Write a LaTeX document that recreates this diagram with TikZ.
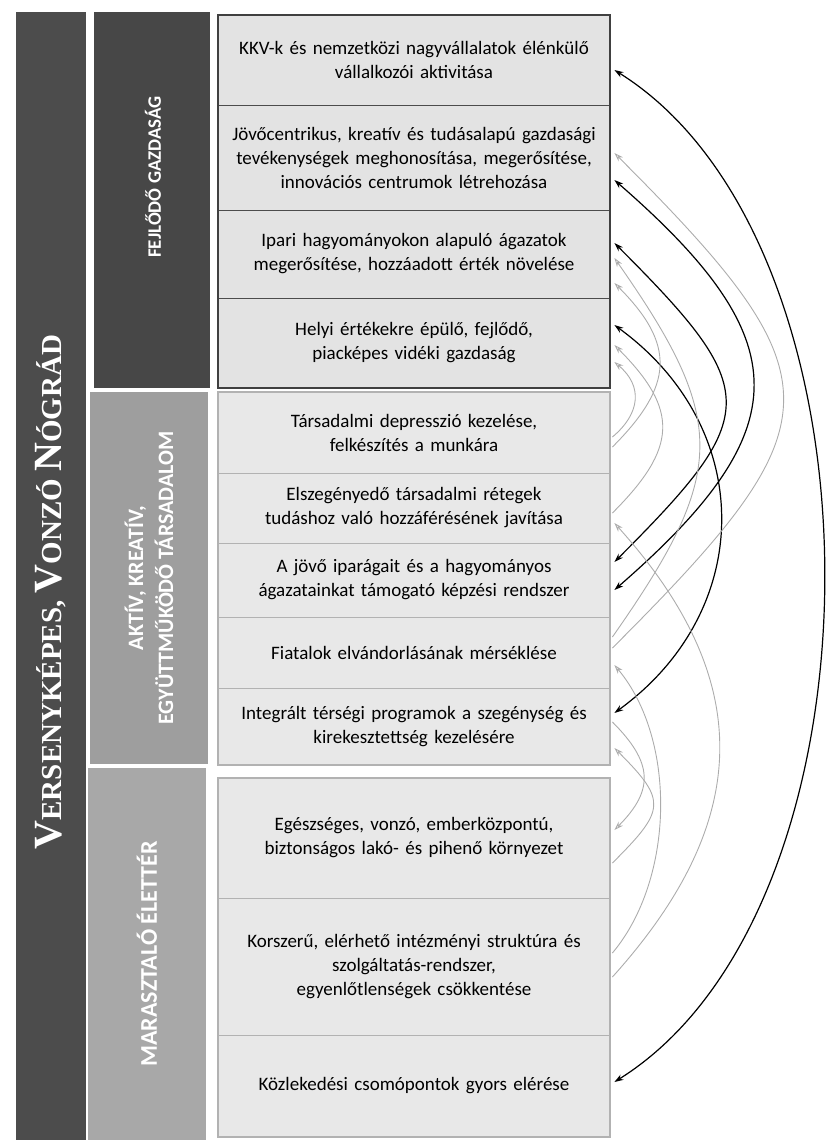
\documentclass[tikz,border=0pt]{standalone}
\usepackage{fontspec}
\setmainfont{Carlito}
\newfontfamily\titlefont{Liberation Serif}
\usetikzlibrary{arrows.meta}
\newcommand\scword[2]{{\fontsize{40}{40}\selectfont#1}{\fontsize{29}{29}\selectfont#2}}
\tikzset{x=1pt,y=1pt,
         >={Stealth[length=9pt,width=6pt]},
         row/.style={draw=gray!60, line width=0.8pt, fill=gray!18,
                     text width=388pt, inner xsep=2pt, inner ysep=0pt, align=center,
                     font=\fontsize{19}{24}\selectfont},
         econrow/.style={row, draw=black!70, fill=gray!22},
         band/.style={rotate=90, text=white, inner sep=0pt, align=center,
                      font=\bfseries\fontsize{19}{24}\selectfont},
         blackarc/.style={<->, black, line width=1.2pt},
         grayarc/.style={<-, gray!65, line width=0.9pt,
                         >={Stealth[open,length=9pt,width=6pt]}}}

\begin{document}
\begin{tikzpicture}
\useasboundingbox (0,0) rectangle (827,-1140);
% left columns
\node[band, fill=black!70, minimum width=1128pt, minimum height=70pt] (title) at (51,-576) {};
\node[band, font=\titlefont\bfseries\fontsize{29}{29}\selectfont] (titletext) at (51,-592)
  {\scword{V}{ERSENYKÉPES,} \scword{V}{ONZÓ} \scword{N}{ÓGRÁD}};
\node[band, fill=black!72, minimum width=376pt, minimum height=116pt] (econ) at (152,-200) {};
\node[band] (econtext) at (153,-177) {FEJLŐDŐ GAZDASÁG};
\node[band, fill=black!38, minimum width=372pt, minimum height=118pt, font=\bfseries\fontsize{22}{30}\selectfont] (soc) at (149,-578)
  {AKTÍV, KREATÍV,\\ EGYÜTTMŰKÖDŐ TÁRSADALOM};
\node[band, fill=black!34, minimum width=372pt, minimum height=118pt, font=\bfseries\fontsize{24}{30}\selectfont] (env) at (147,-954)
  {MARASZTALÓ ÉLETTÉR};
% objectives
\node[econrow, minimum height=90pt]  (r1) at (414,-60)
  {KKV-k és nemzetközi nagyvállalatok élénkülő\\ vállalkozói aktivitása};
\node[econrow, minimum height=105pt] (r2) at (414,-157.5)
  {Jövőcentrikus, kreatív és tudásalapú gazdasági\\ tevékenységek meghonosítása, megerősítése,\\ innovációs centrumok létrehozása};
\node[econrow, minimum height=88pt]  (r3) at (414,-254)
  {Ipari hagyományokon alapuló ágazatok\\ megerősítése, hozzáadott érték növelése};
\node[econrow, minimum height=90pt]  (r4) at (414,-343)
  {Helyi értékekre épülő, fejlődő,\\ piacképes vidéki gazdaság};
\node[row, minimum height=81pt] (r5) at (414,-432.5)
  {Társadalmi depresszió kezelése,\\ felkészítés a munkára};
\node[row, minimum height=70pt] (r6) at (414,-508)
  {Elszegényedő társadalmi rétegek\\ tudáshoz való hozzáférésének javítása};
\node[row, minimum height=74pt] (r7) at (414,-580)
  {A jövő iparágait és a hagyományos\\ ágazatainkat támogató képzési rendszer};
\node[row, minimum height=71pt] (r8) at (414,-652.5)
  {Fiatalok elvándorlásának mérséklése};
\node[row, minimum height=77pt] (r9) at (414,-726.5)
  {Integrált térségi programok a szegénység és\\ kirekesztettség kezelésére};
\node[row, minimum height=120pt] (r10) at (414,-838)
  {Egészséges, vonzó, emberközpontú,\\ biztonságos lakó- és pihenő környezet};
\node[row, minimum height=137pt] (r11) at (414,-966.5)
  {Korszerű, elérhető intézményi struktúra és\\ szolgáltatás-rendszer,\\ egyenlőtlenségek csökkentése};
\node[row, minimum height=102pt] (r12) at (414,-1086)
  {Közlekedési csomópontok gyors elérése};
\draw[line width=2pt, black!75] (r1.north west) rectangle (r4.south east);
\draw[line width=2pt, gray!60] (r5.north west) rectangle (r9.south east);
\draw[line width=2pt, gray!60] (r10.north west) rectangle (r12.south east);
% links
\foreach \a/\ya/\b/\yb/\o/\d in {r1/-10/r12/4/-32/329, r2/-22.5/r7/-10/-41/245,
                                 r3/11/r7/18/-45/209, r4/18/r9/13.5/-36/175}
  \draw[blackarc] ([xshift=4pt,yshift=\ya pt]\a.east) .. controls +(\o:\d) and +(-\o:\d) ..
                  ([xshift=4pt,yshift=\yb pt]\b.east);
\foreach \a/\ya/\b/\yb/\o/\d in {r2/4.5/r8/4.5/-45/320, r3/-4/r8/15.5/-55/200,
                                 r4/-2/r6/-5/-45/92, r3/-29/r5/-14.5/-45/87,
                                 r4/-19/r5/-4.5/-40/37, r6/-15/r11/-10.5/-48/211,
                                 r8/-12.5/r11/13.5/-50/97, r9/-21.5/r10/-25/-45/75}
  \draw[grayarc] ([xshift=4pt,yshift=\ya pt]\a.east) .. controls +(\o:\d) and +(-\o:\d) ..
                 ([xshift=2pt,yshift=\yb pt]\b.east);
\draw[grayarc, -{Stealth[open,length=9pt,width=6pt]}] ([xshift=2pt,yshift=4.5pt]r9.east)
  .. controls +(-45:57) and +(45:57) .. ([xshift=4pt,yshift=8pt]r10.east);
\end{tikzpicture}
\end{document}
